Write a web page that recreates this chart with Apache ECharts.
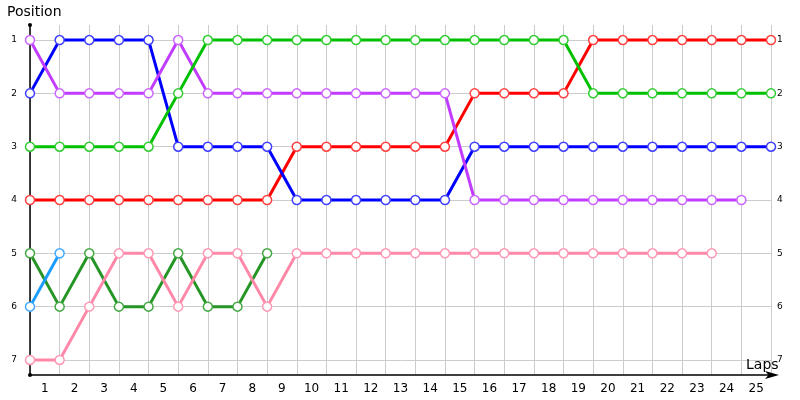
<!DOCTYPE html>
<html>
<head>
<meta charset="utf-8">
<script src="https://cdn.jsdelivr.net/npm/echarts@6/dist/echarts.min.js"></script>
<style>
  html, body { margin: 0; padding: 0; background: #fff; }
  #chart { width: 800px; height: 400px; }
</style>
</head>
<body>
<div id="chart"></div>
<script>
// 圈数标签
let laps = []
for (let i = 1; i <= 25; i++) laps.push(String(i))
let positions = [1, 2, 3, 4, 5, 6, 7]

// 每位车手从第0圈开始的名次
let bluePos   = [2, 1, 1, 1, 1, 3, 3, 3, 3, 4, 4, 4, 4, 4, 4, 3, 3, 3, 3, 3, 3, 3, 3, 3, 3, 3]
let purplePos = [1, 2, 2, 2, 2, 1, 2, 2, 2, 2, 2, 2, 2, 2, 2, 4, 4, 4, 4, 4, 4, 4, 4, 4, 4]
let greenPos  = [3, 3, 3, 3, 3, 2, 1, 1, 1, 1, 1, 1, 1, 1, 1, 1, 1, 1, 1, 2, 2, 2, 2, 2, 2, 2]
let redPos    = [4, 4, 4, 4, 4, 4, 4, 4, 4, 3, 3, 3, 3, 3, 3, 2, 2, 2, 2, 1, 1, 1, 1, 1, 1, 1]
let dkGreenPos = [5, 6, 5, 6, 6, 5, 6, 6, 5]
let ltBluePos  = [6, 5]
let pinkPos    = [7, 7, 6, 5, 5, 6, 5, 5, 6, 5, 5, 5, 5, 5, 5, 5, 5, 5, 5, 5, 5, 5, 5, 5]

// 画的先后顺序 = 叠放顺序（后画的在上面）
let drivers = [
  { name: 'D', pos: redPos, color: '#ff0000', border: '#ff4040' },
  { name: 'A', pos: bluePos, color: '#0000ff', border: '#4040ff' },
  { name: 'B', pos: purplePos, color: '#c23cff', border: '#cc66ff' },
  { name: 'C', pos: greenPos, color: '#00c000', border: '#33cc33' },
  { name: 'E', pos: dkGreenPos, color: '#259625', border: '#44a844' },
  { name: 'G', pos: pinkPos, color: '#ff88a8', border: '#ff99b5' },
  { name: 'F', pos: ltBluePos, color: '#1a9cff', border: '#44aaff' }
]

let font = 'DejaVu Sans'
let yMin = 0.718, yMax = 7.282

let chart = echarts.init(document.getElementById('chart'))
let option = {
  animation: false,
  title: [
    { text: 'Position', left: 2, top: 0,
      textStyle: { fontFamily: font, fontSize: 14, fontWeight: 'normal', color: '#000' } },
    { text: 'Laps', left: 741, top: 353,
      textStyle: { fontFamily: font, fontSize: 14, fontWeight: 'normal', color: '#000' } }
  ],
  grid: { left: 30, right: 29, top: 25, bottom: 25 },
  xAxis: [
    {
      type: 'value', min: 0, max: 25, interval: 1,
      axisLine: { show: true, lineStyle: { color: '#000', width: 1.5 },
        symbol: ['none', 'arrow'], symbolSize: [6, 14], symbolOffset: [0, 8] },
      axisTick: { show: false },
      axisLabel: { show: false },
      splitLine: { show: true, lineStyle: { color: '#cccccc', width: 1 } }
    },
    {
      type: 'category', data: laps, boundaryGap: true, position: 'bottom',
      axisLine: { show: false }, axisTick: { show: false },
      axisLabel: { fontFamily: font, fontSize: 12, color: '#000', margin: 8 },
      splitLine: { show: false }
    }
  ],
  yAxis: [
    {
      type: 'value', inverse: true, min: yMin, max: yMax,
      axisLine: { show: true, lineStyle: { color: '#000', width: 1.5 },
        symbol: ['circle', 'circle'], symbolSize: [4, 4] },
      axisTick: { show: false, customValues: positions },
      axisLabel: { customValues: positions, fontFamily: font, fontSize: 9, color: '#000', margin: 13 },
      splitLine: { show: true, lineStyle: { color: '#cccccc', width: 1 } }
    },
    {
      type: 'value', inverse: true, min: yMin, max: yMax, position: 'right',
      axisLine: { show: false },
      axisTick: { show: false, customValues: positions },
      axisLabel: { customValues: positions, fontFamily: font, fontSize: 9, color: '#000', margin: 6 },
      splitLine: { show: false }
    }
  ],
  series: drivers.map(d => ({
    name: d.name,
    type: 'line',
    xAxisIndex: 0,
    yAxisIndex: 0,
    data: d.pos.map((p, i) => [i, p]),
    symbol: 'circle',
    symbolSize: 9,
    showAllSymbol: true,
    lineStyle: { color: d.color, width: 3 },
    itemStyle: { color: '#fff', borderColor: d.border, borderWidth: 1.5 },
    emphasis: { disabled: true }
  }))
}
chart.setOption(option)
</script>
</body>
</html>
